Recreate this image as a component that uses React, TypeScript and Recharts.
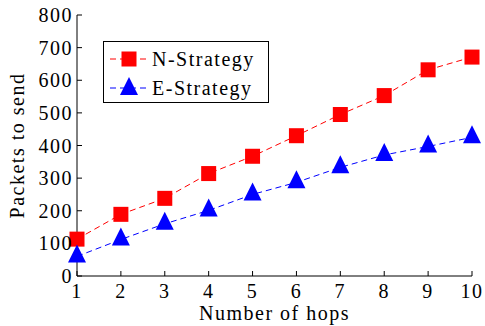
import React from "react";
import { LineChart, Line, XAxis, YAxis, Legend } from "recharts";

const hops = [1, 2, 3, 4, 5, 6, 7, 8, 9, 10];
const nStrategy = [113, 189, 238, 314, 367, 430, 495, 553, 632, 671];
const eStrategy = [60, 112, 160, 201, 250, 287, 333, 371, 397, 425];
const yTicks = [0, 100, 200, 300, 400, 500, 600, 700, 800];

const data = hops.map((h, i) => ({ hop: h, n: nStrategy[i], e: eStrategy[i] }));

const FONT = "'Liberation Serif', 'Times New Roman', serif";
const tickStyle = { fontFamily: FONT, fontSize: 20, fill: "#000", letterSpacing: 1.5 };

const Square = (props: any) => {
  const { cx, cy } = props;
  if (cx == null || cy == null) return null;
  return <rect x={cx - 7.5} y={cy - 7.5} width={15} height={15} fill="#ff0000" />;
};

const Triangle = (props: any) => {
  const { cx, cy } = props;
  if (cx == null || cy == null) return null;
  return <polygon points={`${cx},${cy - 12} ${cx - 9},${cy + 6} ${cx + 9},${cy + 6}`} fill="#0000ff" />;
};

const LegendBox = () => (
  <svg width={166} height={62} style={{ display: "block" }}>
    <rect x={0.5} y={0.5} width={165} height={61} fill="#fff" stroke="#000" />
    <line x1={7} y1={18} x2={44} y2={18} stroke="#ff0000" strokeDasharray="6 4" />
    <rect x={18.5} y={10.5} width={15} height={15} fill="#ff0000" />
    <text x={49} y={25} style={tickStyle}>N-Strategy</text>
    <line x1={7} y1={47} x2={44} y2={47} stroke="#0000ff" strokeDasharray="6 4" />
    <polygon points="26,36 17,54 35,54" fill="#0000ff" />
    <text x={49} y={54} style={tickStyle}>E-Strategy</text>
  </svg>
);

export default function App() {
  return (
    <div style={{ position: "absolute", left: 0, top: 0, background: "#fff" }}>
      <LineChart width={485} height={326} data={data} margin={{ top: 15, right: 13, bottom: 0, left: 0 }}>
        <XAxis
          dataKey="hop"
          type="number"
          domain={[1, 10]}
          ticks={hops}
          interval={0}
          height={50}
          stroke="#000"
          tickSize={-5}
          tickMargin={13}
          tick={tickStyle}
          label={{ value: "Number of hops", position: "insideBottom", offset: 6, style: { ...tickStyle, textAnchor: "middle" } }}
        />
        <XAxis
          xAxisId="top"
          orientation="top"
          type="number"
          domain={[1, 10]}
          ticks={hops}
          interval={0}
          allowDataOverflow
          height={0}
          stroke="#000"
          tickSize={-5}
          tick={false}
        />
        <YAxis
          type="number"
          domain={[0, 800]}
          ticks={yTicks}
          interval={0}
          width={77}
          stroke="#000"
          tickSize={-5}
          tickMargin={9}
          tick={tickStyle}
          label={{ value: "Packets to send", angle: -90, position: "insideLeft", offset: 17, style: { ...tickStyle, textAnchor: "middle" } }}
        />
        <YAxis
          yAxisId="right"
          orientation="right"
          type="number"
          domain={[0, 800]}
          ticks={yTicks}
          interval={0}
          allowDataOverflow
          width={0}
          stroke="#000"
          tickSize={-5}
          tick={false}
        />
        <Legend
          layout="vertical"
          align="center"
          verticalAlign="middle"
          content={() => <LegendBox />}
          wrapperStyle={{ position: "absolute", left: 103, top: 41, width: "auto", height: "auto" }}
        />
        <Line
          dataKey="n"
          name="N-Strategy"
          stroke="#ff0000"
          strokeDasharray="6 4"
          strokeWidth={1}
          dot={<Square />}
          isAnimationActive={false}
        />
        <Line
          dataKey="e"
          name="E-Strategy"
          stroke="#0000ff"
          strokeDasharray="6 4"
          strokeWidth={1}
          dot={<Triangle />}
          isAnimationActive={false}
        />
      </LineChart>
    </div>
  );
}
